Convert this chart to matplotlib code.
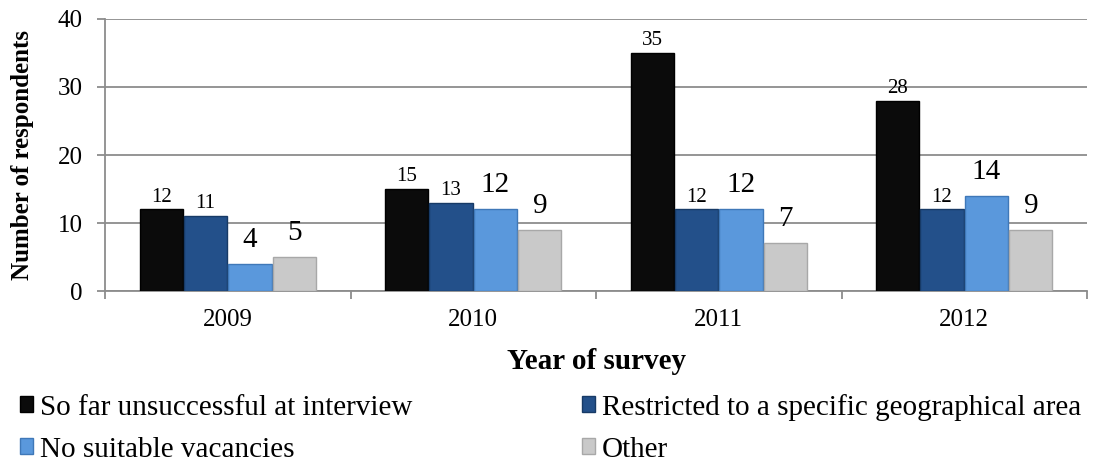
import numpy as np
import matplotlib
matplotlib.use("Agg")
import matplotlib.pyplot as plt

plt.rcParams["font.family"] = ["Liberation Serif", "DejaVu Serif"]

# Chart data.
years = ["2009", "2010", "2011", "2012"]
series_names = ["So far unsuccessful at interview",
                "Restricted to a specific geographical area",
                "No suitable vacancies",
                "Other"]
unsuccessful = [12, 15, 35, 28]
restricted = [11, 13, 12, 12]
no_vacancies = [4, 12, 12, 14]
other = [5, 9, 7, 9]

series = [unsuccessful, restricted, no_vacancies, other]
colors = ["#0b0b0b", "#23508a", "#5a98dc", "#c9c9c9"]
edges = ["#000000", "#173a66", "#3f78b8", "#a8a8a8"]
label_sizes = [15, 15, 21, 21]
label_pads = [2, 2, 8, 8]

fig = plt.figure(figsize=(10.94, 4.62), dpi=100)
ax = fig.add_axes([0.096, 0.3701, 0.8976, 0.5888])

x = np.arange(len(years))
width = 0.181
offsets = (np.arange(4) - 1.5) * width

handles = []
for vals, off, col, ec, name, fs, pad in zip(series, offsets, colors, edges,
                                               series_names, label_sizes,
                                               label_pads):
    bars = ax.bar(x + off, vals, width * 0.97, color=col, edgecolor=ec,
                  linewidth=1.0, label=name, zorder=3)
    ax.bar_label(bars, labels=[str(v) for v in vals], padding=pad,
                 fontsize=fs, zorder=4)
    handles.append(bars)

ax.set_xlim(-0.5, len(years) - 0.5)
ax.set_ylim(0, 40)
ax.set_yticks([0, 10, 20, 30, 40])
ax.yaxis.grid(True, color="#8c8c8c", linewidth=1.3, zorder=0)
ax.set_axisbelow(True)

# Category ticks sit on group boundaries, labels in the middle.
ax.set_xticks(np.arange(len(years) + 1) - 0.5)
ax.set_xticklabels([])
ax.set_xticks(x, minor=True)
ax.set_xticklabels(years, minor=True, fontsize=18)
ax.tick_params(axis="x", which="minor", length=0, pad=13)
ax.tick_params(axis="x", which="major", length=6, color="#8c8c8c", width=1.3)
ax.tick_params(axis="y", length=6, color="#8c8c8c", width=1.3, labelsize=18,
               pad=10)

for side in ["top", "right"]:
    ax.spines[side].set_visible(False)
for side in ["left", "bottom"]:
    ax.spines[side].set_color("#8c8c8c")
    ax.spines[side].set_linewidth(1.3)

ax.set_xlabel("Year of survey", fontsize=21, fontweight="bold", labelpad=12)
ax.set_ylabel("Number of respondents", fontsize=18, fontweight="bold",
              labelpad=17)

# Row-major legend order.
order = [0, 2, 1, 3]
fig.legend([handles[i] for i in order], [series_names[i] for i in order],
           loc="upper left", bbox_to_anchor=(0.018, 0.148), ncol=2,
           frameon=False, fontsize=21, handlelength=0.45, handleheight=0.45,
           handletextpad=0.25, columnspacing=5.8, labelspacing=0.55,
           borderpad=0, borderaxespad=0)

fig.savefig("out.png", dpi=100)
